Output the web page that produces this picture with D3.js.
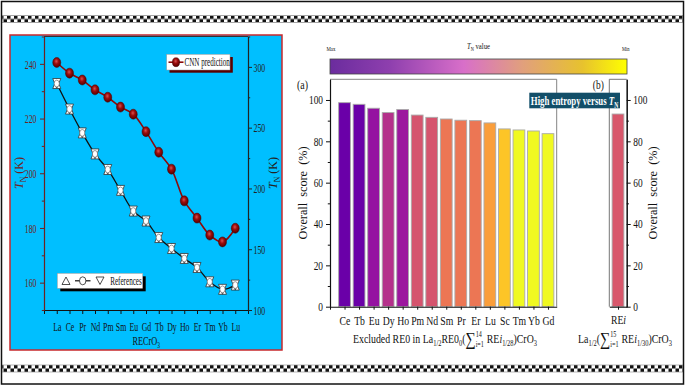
<!DOCTYPE html>
<html><head><meta charset="utf-8">
<script src="https://cdn.jsdelivr.net/npm/d3@7"></script>
<style>
body{margin:0;background:#fff}
svg{display:block}
text{font-family:"Liberation Serif","Times New Roman",serif;white-space:pre}
</style>
</head><body>
<svg id="c" width="685" height="386"></svg>
<script>
// ---------------- DATA ----------------
const elements = ["La","Ce","Pr","Nd","Pm","Sm","Eu","Gd","Tb","Dy","Ho","Er","Tm","Yb","Lu"];
const cnnTN = [240.5,236.6,234.1,230.5,227.8,224.2,221.6,215.2,207.7,201.5,189.9,183.6,177.4,174.9,179.9];
const refTN = [286.3,265.3,245.7,228.4,215.6,198.4,181.4,173.2,159.6,150.6,142.4,135.0,123.2,117.0,120.5];
const leftTicks = [160,180,200,220,240];
const leftMinor = [150,170,190,210,230,250];
const rightTicks = [100,150,200,250,300];
const rightMinor = [125,175,225,275,325];
const excluded = ["Ce","Tb","Eu","Dy","Ho","Pm","Nd","Sm","Pr","Er","Lu","Sc","Tm","Yb","Gd"];
const scores = [98.7,97.9,96.0,93.9,95.4,92.7,91.6,90.8,90.2,90.0,88.9,86.0,85.5,85.0,83.7];
const barColors = ["#6A00A8","#6A00A8","#9512A1","#B5308B","#9C179E","#D5546E","#D5546E","#EC7654","#EC7654","#EC7654","#FA9E3B","#FDC527","#F0F921","#F0F921","#F0F921"];
const heCategories = ["REi"];
const heScores = [93.2];
const heColors = ["#D8576B"];
const scoreTicks = [0,20,40,60,80,100];
const scoreMinor = [10,30,50,70,90];

// ---------------- HELPERS ----------------
const svg = d3.select("#c");
const defs = svg.append("defs");
const SERIF = '"Liberation Serif","Times New Roman",serif';

function rich(parent, runs, fs, cx, baseline, targetW, opt = {}) {
  const g = parent.append("g");
  let x = 0;
  const m = t => t.node().getComputedTextLength();
  const base = t => t.style("font-weight", opt.bold ? "bold" : "normal").attr("fill", opt.fill || "#111");
  runs.forEach(r => {
    if (r.stack) {
      const s = base(g.append("text")).attr("x", x).attr("y", -fs * 0.45).style("font-size", fs * 0.62 + "px").text(r.stack[0]);
      const b = base(g.append("text")).attr("x", x).attr("y", fs * 0.32).style("font-size", fs * 0.62 + "px").text(r.stack[1]);
      x += Math.max(m(s), m(b)) + fs * 0.05;
    } else {
      const size = r.sub ? fs * 0.65 : (r.big ? fs * 1.45 : fs);
      const t = base(g.append("text")).attr("x", x).attr("y", r.sub ? fs * 0.25 : (r.big ? fs * 0.12 : 0))
        .style("font-size", size + "px").style("font-style", r.it ? "italic" : "normal").text(r.t);
      x += m(t);
    }
  });
  const sx = targetW ? targetW / x : 1;
  g.attr("transform", `translate(${cx - x * sx / 2},${baseline}) scale(${sx},1)`);
  return g;
}

function styleAxis(g, color, fs) {
  g.select(".domain").attr("stroke", color).attr("stroke-width", 1.1);
  g.selectAll(".tick line").attr("stroke", color).attr("stroke-width", 1);
  g.selectAll(".tick text").attr("fill", color).style("font-family", SERIF).style("font-size", fs + "px");
}

// ---------------- FRAME & CHECKER STRIPS ----------------
svg.append("rect").attr("width", 685).attr("height", 386).attr("fill", "#fff");
function checker(id, y0) {
  const p = defs.append("pattern").attr("id", id).attr("patternUnits", "userSpaceOnUse")
    .attr("width", 7).attr("height", 7).attr("x", 0).attr("y", y0);
  p.append("rect").attr("width", 7).attr("height", 7).attr("fill", "#fff");
  p.append("rect").attr("width", 3.5).attr("height", 3.5).attr("fill", "#111");
  p.append("rect").attr("x", 3.5).attr("y", 3.5).attr("width", 3.5).attr("height", 3.5).attr("fill", "#111");
  svg.append("rect").attr("x", 2).attr("y", y0).attr("width", 681).attr("height", 7)
    .attr("fill", `url(#${id})`).attr("stroke", "#999").attr("stroke-width", 0.7);
}
checker("chkTop", 15.5);
checker("chkBot", 365);
svg.append("rect").attr("x", 1.5).attr("y", 1.5).attr("width", 682).attr("height", 382.5)
  .attr("fill", "none").attr("stroke", "#111").attr("stroke-width", 1.5);

// ---------------- LEFT PANEL ----------------
const L = svg.append("g");
L.append("rect").attr("x", 10).attr("y", 35).attr("width", 272).attr("height", 315)
  .attr("fill", "#00BFFF").attr("stroke", "#C8282D").attr("stroke-width", 1.5);

const xL = d3.scaleLinear().domain([0, 16]).range([44, 248]);
const yL = d3.scaleLinear().domain([150, 250]).range([310, 36.5]);
const yR = d3.scaleLinear().domain([100, 325]).range([310, 36.5]);
const maroon = "#6E2222";
const sxL = 0.6;

L.append("line").attr("x1", xL(0)).attr("x2", xL(16)).attr("y1", yL(250)).attr("y2", yL(250))
  .attr("stroke", "#333").attr("stroke-width", 1.1);

const gxL = L.append("g").attr("transform", `translate(0,310)`)
  .call(d3.axisBottom(xL).tickValues(d3.range(0, 17)).tickSize(4).tickSizeOuter(0).tickPadding(7.5)
    .tickFormat(i => elements[i - 1] || ""));
styleAxis(gxL, "#111", 13);
gxL.selectAll(".tick text").attr("transform", `scale(${sxL},1)`);

const gyL = L.append("g").attr("transform", `translate(44,0)`)
  .call(d3.axisLeft(yL).tickValues(leftTicks).tickSize(4).tickSizeOuter(0));
styleAxis(gyL, maroon, 13);
gyL.selectAll(".tick text").attr("x", -7.5 / sxL).attr("transform", `scale(${sxL},1)`);
const gyLm = L.append("g").attr("transform", `translate(44,0)`)
  .call(d3.axisLeft(yL).tickValues(leftMinor).tickSize(2.2).tickSizeOuter(0).tickFormat(""));
styleAxis(gyLm, maroon, 13);

const gyR = L.append("g").attr("transform", `translate(248,0)`)
  .call(d3.axisRight(yR).tickValues(rightTicks).tickSize(4).tickSizeOuter(0));
styleAxis(gyR, "#222", 13);
gyR.selectAll(".tick text").attr("x", 5.5 / sxL).attr("transform", `scale(${sxL},1)`);
const gyRm = L.append("g").attr("transform", `translate(248,0)`)
  .call(d3.axisRight(yR).tickValues(rightMinor).tickSize(2.2).tickSizeOuter(0).tickFormat(""));
styleAxis(gyRm, "#222", 13);

rich(L, [{ t: "RECrO" }, { t: "3", sub: true }], 13, 146.3, 345, 27.5);
rich(L.append("g").attr("transform", "translate(23,173) rotate(-90)"),
  [{ t: "T", it: true }, { t: "N", sub: true }, { t: " (K)" }], 12, 0, 0, 0, { fill: maroon });
rich(L.append("g").attr("transform", "translate(277,173) rotate(-90)"),
  [{ t: "T", it: true }, { t: "N", sub: true }, { t: " (K)" }], 12, 0, 0, 0, { fill: "#222" });

const rg = defs.append("radialGradient").attr("id", "sphere").attr("cx", "45%").attr("cy", "38%").attr("r", "60%");
rg.append("stop").attr("offset", "0%").attr("stop-color", "#d85050");
rg.append("stop").attr("offset", "45%").attr("stop-color", "#9a0c0c");
rg.append("stop").attr("offset", "100%").attr("stop-color", "#5a0000");

const cnnLine = d3.line().x((d, i) => xL(i + 1)).y(d => yL(d)).curve(d3.curveCatmullRom);
const refLine = d3.line().x((d, i) => xL(i + 1)).y(d => yR(d)).curve(d3.curveCatmullRom);
L.append("path").attr("d", refLine(refTN)).attr("fill", "none").attr("stroke", "#111").attr("stroke-width", 1.3);
L.append("path").attr("d", cnnLine(cnnTN)).attr("fill", "none").attr("stroke", "#8B0A0A").attr("stroke-width", 1.6);

function refMarker(g) {
  g.append("path").attr("d", "M-4,5L4,5L0,-5Z").attr("fill", "#fff").attr("stroke", "#333").attr("stroke-width", 0.8);
  g.append("path").attr("d", "M-4,-5L4,-5L0,5Z").attr("fill", "#fff").attr("stroke", "#333").attr("stroke-width", 0.8);
  g.append("ellipse").attr("rx", 2.6).attr("ry", 3.4).attr("fill", "#fff").attr("stroke", "#555").attr("stroke-width", 0.6);
}
L.selectAll("g.ref").data(refTN).join("g").attr("class", "ref")
  .attr("transform", (d, i) => `translate(${xL(i + 1)},${yR(d)})`).each(function () { refMarker(d3.select(this)); });

L.selectAll("ellipse.cnn").data(cnnTN).join("ellipse").attr("class", "cnn")
  .attr("cx", (d, i) => xL(i + 1)).attr("cy", d => yL(d)).attr("rx", 4).attr("ry", 5)
  .attr("fill", "url(#sphere)").attr("stroke", "#4a0000").attr("stroke-width", 0.5);

L.append("rect").attr("x", 169.5).attr("y", 57).attr("width", 63.3).attr("height", 15.7).attr("fill", "#5a0000");
L.append("rect").attr("x", 166.7).attr("y", 54.3).attr("width", 63.3).attr("height", 15.7).attr("fill", "#fff").attr("stroke", "#999").attr("stroke-width", 0.5);
L.append("line").attr("x1", 168.5).attr("x2", 183.5).attr("y1", 62.2).attr("y2", 62.2).attr("stroke", "#8B0A0A").attr("stroke-width", 1.6);
L.append("ellipse").attr("cx", 176).attr("cy", 62.2).attr("rx", 3.6).attr("ry", 4.5).attr("fill", "url(#sphere)").attr("stroke", "#4a0000").attr("stroke-width", 0.5);
rich(L, [{ t: "CNN prediction" }], 12, 207.2, 66.3, 45.5);

L.append("rect").attr("x", 60.3).attr("y", 276.3).attr("width", 85.4).attr("height", 15).attr("fill", "#000");
L.append("rect").attr("x", 57.3).attr("y", 273.3).attr("width", 85.4).attr("height", 15).attr("fill", "#fff").attr("stroke", "#999").attr("stroke-width", 0.5);
L.append("path").attr("d", "M62,284.5L70,284.5L66,277Z").attr("fill", "#fff").attr("stroke", "#222").attr("stroke-width", 0.8);
L.append("line").attr("x1", 75).attr("x2", 90.5).attr("y1", 280.8).attr("y2", 280.8).attr("stroke", "#111").attr("stroke-width", 1.2);
L.append("ellipse").attr("cx", 82.7).attr("cy", 280.8).attr("rx", 3.2).attr("ry", 4).attr("fill", "#fff").attr("stroke", "#222").attr("stroke-width", 0.8);
L.append("path").attr("d", "M96,277L104,277L100,284.5Z").attr("fill", "#fff").attr("stroke", "#222").attr("stroke-width", 0.8);
rich(L, [{ t: "References" }], 12, 126, 284.8, 31.7);

// ---------------- RIGHT PANEL ----------------
const R = svg.append("g");
const sxR = 0.78;
const xA = d3.scaleLinear().domain([0, 15.6]).range([330, 556.7]);
const xB = d3.scaleLinear().domain([0, 2]).range([609.3, 626.7]);
const yA = d3.scaleLinear().domain([0, 110]).range([306.7, 79.3]);
const bw = 0.81 * (xA(1) - xA(0));

const lg = defs.append("linearGradient").attr("id", "cbar");
[[0, "#6B2C9E"], [0.2, "#8E3FAE"], [0.45, "#D86FC9"], [0.65, "#E1A07C"], [0.85, "#E7C22E"], [1, "#FFFF00"]]
  .forEach(([o, c]) => lg.append("stop").attr("offset", o).attr("stop-color", c));
R.append("rect").attr("x", 330).attr("y", 59).attr("width", 297).attr("height", 15)
  .attr("fill", "url(#cbar)").attr("stroke", "#444").attr("stroke-width", 0.8);
rich(R, [{ t: "Max" }], 7, 331, 51, 9);
rich(R, [{ t: "Min" }], 7, 625.7, 51, 7.5);
rich(R, [{ t: "T", it: true }, { t: "N", sub: true }, { t: " value" }], 9, 478.5, 49, 23);

R.append("path").attr("d", `M${xA(0)},${yA(110)}H${xA(15.6)}V${yA(0)}`).attr("fill", "none").attr("stroke", "#777").attr("stroke-width", 0.9);
R.append("path").attr("d", `M${xB(0)},${yA(0)}V${yA(110)}H${xB(2)}`).attr("fill", "none").attr("stroke", "#666").attr("stroke-width", 0.9);

R.selectAll("rect.bar").data(scores).join("rect").attr("class", "bar")
  .attr("x", (d, i) => xA(i + 1) - bw / 2).attr("width", bw)
  .attr("y", d => yA(d)).attr("height", d => yA(0) - yA(d))
  .attr("fill", (d, i) => barColors[i]).attr("stroke", "#aaa").attr("stroke-width", 0.9);
R.selectAll("rect.barb").data(heScores).join("rect").attr("class", "barb")
  .attr("x", (d, i) => xB(i + 1) - bw / 2).attr("width", bw)
  .attr("y", d => yA(d)).attr("height", d => yA(0) - yA(d))
  .attr("fill", (d, i) => heColors[i]).attr("stroke", "#aaa").attr("stroke-width", 0.9);

const gxA = R.append("g").attr("transform", `translate(0,${yA(0)})`)
  .call(d3.axisBottom(xA).tickValues(d3.range(0, 16)).tickSize(3).tickSizeOuter(0).tickPadding(6.5)
    .tickFormat(i => excluded[i - 1] || ""));
styleAxis(gxA, "#111", 12.5);
gxA.selectAll(".tick text").attr("transform", `scale(${sxR},1)`);
const gyA = R.append("g").attr("transform", `translate(${xA(0)},0)`)
  .call(d3.axisLeft(yA).tickValues(scoreTicks).tickSize(4).tickSizeOuter(0));
styleAxis(gyA, "#111", 12);
gyA.selectAll(".tick text").attr("x", -7 / sxR).attr("transform", `scale(${sxR},1)`);
const gyAm = R.append("g").attr("transform", `translate(${xA(0)},0)`)
  .call(d3.axisLeft(yA).tickValues(scoreMinor).tickSize(2.2).tickSizeOuter(0).tickFormat(""));
styleAxis(gyAm, "#111", 12);

const gxB = R.append("g").attr("transform", `translate(0,${yA(0)})`)
  .call(d3.axisBottom(xB).tickValues([1]).tickSize(3).tickSizeOuter(0).tickPadding(5.5)
    .tickFormat(i => heCategories[i - 1] || ""));
styleAxis(gxB, "#111", 12.5);
gxB.selectAll(".tick text").attr("transform", `scale(${sxR},1)`).each(function (d) {
  const t = d3.select(this); const s = heCategories[d - 1];
  t.text(""); t.append("tspan").text(s.slice(0, 2)); t.append("tspan").style("font-style", "italic").text(s.slice(2));
});
const gyB = R.append("g").attr("transform", `translate(${xB(2)},0)`)
  .call(d3.axisRight(yA).tickValues(scoreTicks).tickSize(4).tickSizeOuter(0));
styleAxis(gyB, "#111", 12);
gyB.selectAll(".tick text").attr("x", 6.6 / sxR).attr("transform", `scale(${sxR},1)`);
const gyBm = R.append("g").attr("transform", `translate(${xB(2)},0)`)
  .call(d3.axisRight(yA).tickValues(scoreMinor).tickSize(2.2).tickSizeOuter(0).tickFormat(""));
styleAxis(gyBm, "#111", 12);

rich(R, [{ t: "(a)" }], 12.5, 302.5, 89, 11);
rich(R, [{ t: "(b)" }], 12.5, 598.3, 89, 11);

rich(R.append("g").attr("transform", "translate(307,193) rotate(-90)"), [{ t: "Overall  score  (%)" }], 12.5, 0, 0, 93);
rich(R.append("g").attr("transform", "translate(657,193) rotate(-90)"), [{ t: "Overall  score  (%)" }], 12.5, 0, 0, 93);

rich(R, [{ t: "Excluded RE0 in La" }, { t: "1/2", sub: true }, { t: "RE0" }, { t: "0", sub: true }, { t: "(" },
  { t: "∑", big: true }, { stack: ["14", "i=1"] }, { t: " RE" }, { t: "i", it: true }, { t: "1/28", sub: true },
  { t: ")CrO" }, { t: "3", sub: true }], 13, 445, 343, 184);
rich(R, [{ t: "La" }, { t: "1/2", sub: true }, { t: "(" }, { t: "∑", big: true }, { stack: ["15", "i=1"] },
  { t: " RE" }, { t: "i", it: true }, { t: "1/30", sub: true }, { t: ")CrO" }, { t: "3", sub: true }], 13, 625, 343, 94);

R.append("rect").attr("x", 529.3).attr("y", 92.7).attr("width", 90.7).attr("height", 15.6).attr("fill", "#124E68");
rich(R, [{ t: "High entropy versus " }, { t: "T", it: true }, { t: "N", sub: true }], 12.5, 574.6, 105, 87.5, { bold: true, fill: "#fff" });
</script>
</body></html>
